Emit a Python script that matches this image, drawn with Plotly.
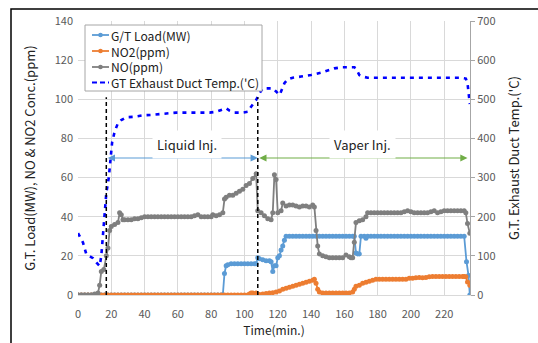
import plotly.graph_objects as go

# ---------------- data ----------------
LOAD_T = [0, 2, 4, 6, 8, 10, 12, 14, 16, 18, 20, 22, 24, 26, 28, 30, 32, 34, 36, 38, 40, 42,
          44, 46, 48, 50, 52, 54, 56, 58, 60, 62, 64, 66, 68, 70, 72, 74, 76, 78, 80, 82, 84, 86,
          87, 88, 89, 90, 92, 94, 96, 98, 100, 102, 104, 106, 107, 108, 109, 111, 113, 115, 116,
          117, 118, 119, 120, 121, 122, 123, 124, 125,
          127, 129, 131, 133, 135, 137, 139, 141, 143, 145, 147, 149, 151, 153, 155, 157, 159, 161,
          163, 165, 166, 167, 168, 169, 170, 172, 173,
          174, 176, 178, 180, 182, 184, 186, 188, 190, 192, 194, 196, 198, 200, 202, 204, 206, 208,
          210, 212, 214, 216, 218, 220, 222, 224, 226, 228, 230, 232, 233.4, 234.6, 235.4]
LOAD_V = [0, 0, 0, 0, 0, 0, 0, 0, 0, 0, 0, 0, 0, 0, 0, 0, 0, 0, 0, 0, 0, 0,
          0, 0, 0, 0, 0, 0, 0, 0, 0, 0, 0, 0, 0, 0, 0, 0, 0, 0, 0, 0, 0, 0,
          0, 11, 15, 15.5, 16, 16, 16, 16, 16, 16, 16, 16, 16, 19, 18.5, 18, 17.5, 17.5, 17,
          12, 15, 15, 19, 20, 23, 25, 28, 30,
          30, 30, 30, 30, 30, 30, 30, 30, 30, 30, 30, 30, 30, 30, 30, 30, 30, 30,
          30, 30, 30, 21.5, 21, 21, 30, 30, 29,
          30, 30, 30, 30, 30, 30, 30, 30, 30, 30, 30, 30, 30, 30, 30, 30, 30, 30,
          30, 30, 30, 30, 30, 30, 30, 30, 30, 30, 30, 30, 17, 10, 0]

NO2_T = [0, 2, 4, 6, 8, 10, 12, 14, 16, 18, 20, 22, 24, 26, 28, 30, 32, 34, 36, 38, 40, 42, 44,
         46, 48, 50, 52, 54, 56, 58, 60, 62, 64, 66, 68, 70, 72, 74, 76, 78, 80, 82, 84, 86, 88,
         90, 92, 94, 96, 98, 100, 102,
         103, 104, 105, 107, 108, 109, 111, 113, 115, 117, 119, 121, 123, 125, 127, 129, 131, 133,
         135, 137, 139, 141, 142, 143, 144, 145,
         147, 149, 151, 153, 155, 157, 159, 161, 163, 165, 166, 167, 169, 171, 173, 175, 177, 179,
         181, 183, 185, 187, 189, 191, 193, 195, 197, 199, 201, 203, 205, 207, 209, 211, 213,
         215, 217, 219, 221, 223, 225, 227, 229, 231, 232, 233, 234, 235.4]
NO2_V = [0, 0, 0, 0, 0, 0, 0, 0, 0, 0, 0, 0, 0, 0, 0, 0, 0, 0, 0, 0, 0, 0, 0,
         0, 0, 0, 0, 0, 0, 0, 0, 0, 0, 0, 0, 0, 0, 0, 0, 0, 0, 0, 0, 0, 0,
         0, 0, 0, 0, 0, 0, 0,
         0.5, 1, 1, 1, 0.5, 0.3, 0.5, 0.8, 1, 1.2, 1.5, 2, 3, 3.5, 4, 4.5, 5, 5.5,
         6, 6.5, 7, 7.5, 8, 6, 3, 1.5,
         1, 1, 1, 1, 1, 1, 1, 1, 1, 1.5, 3, 4.5, 5, 6, 6.5, 7, 7.5, 8,
         8, 8, 8, 8, 8, 8, 8, 8, 8, 8.5, 8.5, 8.8, 9, 8.8, 9, 9.3, 9.5,
         9.5, 9.5, 9.5, 9.5, 9.5, 9.5, 9.5, 9.5, 9.5, 9.5, 9.3, 6.7, 5]

NO_T = [0, 2, 4, 6, 8, 10, 12, 13, 14, 15.5, 17, 18, 19, 20, 22, 24, 25, 26, 27, 28, 30, 32, 34,
        36, 38, 40, 42, 44, 46, 48, 50, 52, 54, 56, 58, 60, 62, 64, 66, 68,
        70, 72, 74, 76, 78, 80, 81, 83, 85, 87, 88, 89, 91, 93, 95, 97, 99, 101, 103, 105, 107,
        108, 110, 112, 114, 116, 117, 118, 119, 120, 122, 123, 125, 127, 129, 131, 133, 135, 137,
        139, 141, 142, 143, 144, 145, 147, 149, 151, 153, 155, 157, 159, 161, 163, 164, 165, 166,
        167, 169, 171, 173, 174,
        176, 178, 180, 182, 184, 186, 188, 190, 192, 194, 196, 198, 200, 202, 204, 206, 208, 210,
        212, 214, 216, 218, 220, 222, 224, 226, 228, 230, 232, 233, 234, 235.4]
NO_V = [0, 0, 0, 0, 0, 0.5, 1, 5, 12, 13, 20, 24, 33, 35, 36, 37, 42, 41, 38.5, 38.5, 38.5, 38.5, 39,
        39, 39.5, 40, 40, 40, 40, 40, 40, 40, 40, 40, 40, 40, 40, 40, 40, 40,
        40.5, 41, 40, 40, 40, 40, 41, 40.5, 41, 42, 49, 50, 51, 51, 52, 53, 54, 56, 57, 59.5, 62,
        43, 42, 40.5, 39, 38.5, 42, 61.5, 59, 42, 43, 47, 45.5, 46, 46, 45.5, 45, 45.5, 45.5,
        45, 46, 45, 33, 25, 21, 20, 19.5, 19, 19, 19, 19, 19, 20.5, 19.5, 19, 19, 27,
        37, 38, 38.5, 40, 42,
        42, 42, 42, 42, 42, 42, 42, 42, 42, 42, 42.5, 43, 42.5, 42, 42, 42, 42, 42,
        42.5, 43, 42, 42.5, 43, 43, 43, 43, 43, 43, 43, 42, 36.5, 31.5]

TEMP_T = [0, 3, 5, 7, 9, 11, 13, 14, 15, 16, 17, 18.5, 19.5, 20.5, 22, 24, 26, 29, 33, 39, 44, 49,
          54, 59, 69, 79, 83, 87, 89, 91, 94, 99, 102, 104, 106, 107, 109, 111, 115, 117, 119, 121,
          122, 124, 126, 129, 134, 140, 146, 149, 154, 159, 163, 166, 167, 169, 171, 174, 180, 190,
          200, 210, 220, 230, 233, 234, 235.4]
TEMP_V = [158, 134, 104, 100, 94, 83, 74, 100, 151, 200, 260, 300, 350, 390, 417, 439, 447, 454, 455,
          459, 460, 462, 464, 466, 466, 466, 468, 475, 477, 471, 466, 466, 468, 481, 494, 498, 515,
          528, 528, 528, 520, 511, 520, 541, 551, 555, 558, 562, 568, 572, 579, 582, 583, 582, 579,
          562, 558, 555, 555, 555, 555, 555, 555, 555, 553, 541, 488]

SERIES_NAMES = ["G/T Load(MW)", "NO2(ppm)", "NO(ppm)", "GT Exhaust Duct Temp.('C)"]

EVENT_T = [17, 108]            # start of liquid / vapour injection
EVENT_TOP = 101
ARROW_Y = 70
END_T = 234
LABELS = ["Liquid Inj.", "Vaper Inj."]
LABEL_T = [65.7, 171]
LABEL_Y = 77

FONT = "Noto Sans CJK KR"
BLUE, ORANGE, GRAY, TBLUE, GREEN = "#5B9BD5", "#ED7D31", "#7F7F7F", "#0000FF", "#70AD47"
COLORS = [BLUE, ORANGE, GRAY, TBLUE]
TEMP_DASH = "4px,5px"

# plot-area geometry (pixels) for converting layout positions to paper coords
W, H = 538, 343
L, R, T, B = 78, 68, 21, 48
PW, PH = W - L - R, H - T - B


def px(xp):
    return (xp - L) / PW


def py(yp):
    return (H - B - yp) / PH


fig = go.Figure()
for name, t, v, c in [(SERIES_NAMES[0], LOAD_T, LOAD_V, BLUE),
                      (SERIES_NAMES[1], NO2_T, NO2_V, ORANGE),
                      (SERIES_NAMES[2], NO_T, NO_V, GRAY)]:
    fig.add_trace(go.Scatter(x=t, y=v, name=name, mode="lines+markers",
                             line=dict(color=c, width=1.8),
                             marker=dict(color=c, size=5), showlegend=False))
fig.add_trace(go.Scatter(x=TEMP_T, y=TEMP_V, name=SERIES_NAMES[3], yaxis="y2", showlegend=False,
                         mode="lines", line=dict(color=TBLUE, width=2.6, dash=TEMP_DASH)))

for t in EVENT_T:
    fig.add_shape(type="line", x0=t, x1=t, y0=0, y1=EVENT_TOP, xref="x", yref="y",
                  line=dict(color="black", width=1.5, dash="4px,3px"))

for (a, b), col in [((EVENT_T[0], EVENT_T[1]), BLUE), ((EVENT_T[1], END_T), GREEN)]:
    fig.add_annotation(x=b, y=ARROW_Y, ax=a, ay=ARROW_Y, xref="x", yref="y", axref="x", ayref="y",
                       text="", showarrow=True, arrowhead=2, startarrowhead=2, arrowside="end+start",
                       arrowsize=1.2, arrowwidth=1.2, arrowcolor=col)
for lab, t in zip(LABELS, LABEL_T):
    fig.add_annotation(x=t, y=LABEL_Y, xref="x", yref="y", text=lab, showarrow=False,
                       bgcolor="white", borderpad=4, font=dict(size=13, color="#222222", family=FONT))

# ---- custom legend (compact, like the Excel legend) ----
fig.add_shape(type="rect", xref="paper", yref="paper", x0=px(85), x1=px(262), y0=py(91), y1=py(25),
              line=dict(color="#A6A6A6", width=1), fillcolor="white", layer="above")
ENTRY_Y = [35, 51, 67, 82.5]
for i, col in enumerate(COLORS):
    yy = py(ENTRY_Y[i])
    if i < 3:
        fig.add_shape(type="line", xref="paper", yref="paper", x0=px(92), x1=px(109), y0=yy, y1=yy,
                      line=dict(color=col, width=1.8), layer="above")
        fig.add_shape(type="circle", xref="paper", yref="paper", xsizemode="pixel", ysizemode="pixel",
                      xanchor=px(100.5), yanchor=yy, x0=-2.3, x1=2.3, y0=-2.3, y1=2.3,
                      line=dict(color=col, width=0), fillcolor=col, layer="above")
    else:
        fig.add_shape(type="line", xref="paper", yref="paper", x0=px(92), x1=px(109), y0=yy, y1=yy,
                      line=dict(color=col, width=2.2, dash="5px,3px"), layer="above")
fig.add_annotation(xref="paper", yref="paper", x=px(110), y=py((ENTRY_Y[0] + ENTRY_Y[3]) / 2),
                   xanchor="left", yanchor="middle", align="left", borderpad=0,
                   text="<br>".join(SERIES_NAMES), showarrow=False,
                   font=dict(size=12.1, color="#222222", family=FONT))

# outer frame
fig.add_shape(type="rect", xref="paper", yref="paper", x0=px(11), x1=px(545), y0=py(350), y1=py(9),
              line=dict(color="black", width=1.5), layer="above")

fig.update_layout(
    width=W, height=H,
    margin=dict(l=L, r=R, t=T, b=B),
    paper_bgcolor="white", plot_bgcolor="white",
    font=dict(family=FONT, size=11, color="#595959"),
    showlegend=False,
    xaxis=dict(range=[0, 235.5], tickmode="array", tickvals=list(range(0, 221, 20)),
               showgrid=True, gridcolor="#D9D9D9", gridwidth=1, zeroline=False,
               showline=True, linecolor="#D9D9D9", ticklabelstandoff=9,
               title=dict(text="Time(min.)", font=dict(size=12, color="#222222"), standoff=0)),
    yaxis=dict(range=[0, 140], dtick=20, showgrid=True, gridcolor="#D9D9D9", zeroline=False,
               ticklabelstandoff=4,
               title=dict(text="G.T. Load(MW), NO & NO2 Conc.(ppm)",
                          font=dict(size=13, color="#222222"), standoff=16)),
    yaxis2=dict(range=[0, 700], dtick=100, overlaying="y", side="right", showgrid=False,
                zeroline=False, showline=True, linecolor="#A6A6A6", ticks="outside",
                ticklen=4, tickcolor="#A6A6A6",
                title=dict(text="G.T. Exhaust Duct Temp.('C)",
                           font=dict(size=13, color="#222222"), standoff=15)),
)

fig.write_html("out.html")
